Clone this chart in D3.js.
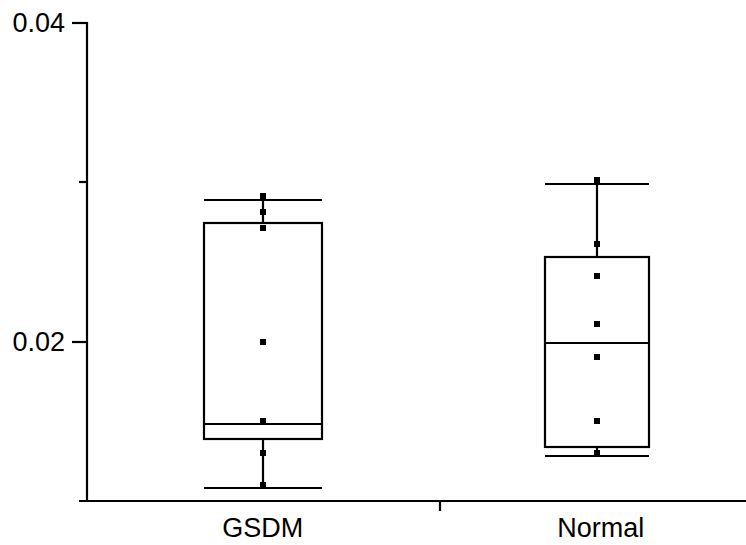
<!DOCTYPE html>
<html>
<head>
<meta charset="utf-8">
<script src="https://cdn.jsdelivr.net/npm/d3@7"></script>
<style>
  body { margin: 0; background: #fff; }
  text { font-family: "Liberation Sans", Arial, sans-serif; fill: #000; }
</style>
</head>
<body>
<div id="chart"></div>
<script>
// data
var groups = ["GSDM", "Normal"];
var whiskerHigh = [0.0289, 0.0299];
var q3 = [0.0274, 0.0253];
var median = [0.0148, 0.0199];
var q1 = [0.0139, 0.0134];
var whiskerLow = [0.0108, 0.0128];
var pointsGSDM = [0.0291, 0.0281, 0.0271, 0.0200, 0.0150, 0.0130, 0.0110];
var pointsNormal = [0.0301, 0.0261, 0.0241, 0.0211, 0.0190, 0.0150, 0.0130];
var yTicks = [0.02, 0.04];
var yMinorTicks = [0.03];
var xTicks = [1.53];

var allPoints = [pointsGSDM, pointsNormal];

var width = 746, height = 545;
var boxW = [118, 104]; // box widths in px
var sw = 2.2;

var svg = d3.select("#chart").append("svg")
    .attr("width", width)
    .attr("height", height);

var yscale = d3.scaleLinear()
    .domain([0.01, 0.04])
    .range([501, 22.5]);

var xscale = d3.scaleLinear()
    .domain([0.45, 2.45])
    .range([79, 747]);

function Y(v) { return Math.round(yscale(v)); }
function X(v) { return Math.round(xscale(v)); }

var axisX0 = 87; // where the y axis sits

// y axis
var yAxis = d3.axisLeft(yscale)
    .tickValues(yTicks)
    .tickSize(15)
    .tickPadding(7)
    .tickFormat(d3.format(".2f"));
var gy = svg.append("g")
    .attr("transform", "translate(" + axisX0 + ",0)")
    .call(yAxis);
gy.select(".domain").remove();
gy.selectAll(".tick").attr("transform", function (d) { return "translate(0," + Y(d) + ")"; });
gy.append("line")
    .attr("x1", 0).attr("x2", 0)
    .attr("y1", Y(0.04) - 1).attr("y2", Y(0.01) + 1)
    .attr("stroke", "#000").attr("stroke-width", sw);
gy.selectAll(".tick line").attr("stroke", "#000").attr("stroke-width", sw);
gy.selectAll(".tick text")
    .style("font-size", "27px")
    .attr("font-family", null)
    .attr("dy", "0.34em");
gy.selectAll(".minor")
    .data(yMinorTicks)
    .enter().append("line")
    .attr("x1", -8).attr("x2", 0)
    .attr("y1", function (d) { return Y(d); })
    .attr("y2", function (d) { return Y(d); })
    .attr("stroke", "#000").attr("stroke-width", sw);

// x axis
var xAxis = d3.axisBottom(xscale)
    .tickValues(xTicks)
    .tickSize(10)
    .tickFormat("");
var gx = svg.append("g")
    .attr("transform", "translate(0," + Y(0.01) + ")")
    .call(xAxis);
gx.select(".domain").remove();
gx.selectAll(".tick").attr("transform", function (d) { return "translate(" + X(d) + ",0)"; });
gx.append("line")
    .attr("x1", xscale.range()[0]).attr("x2", width)
    .attr("y1", 0).attr("y2", 0)
    .attr("stroke", "#000").attr("stroke-width", sw);
gx.selectAll(".tick line").attr("stroke", "#000").attr("stroke-width", sw);

gx.selectAll(".cat")
    .data(groups)
    .enter().append("text")
    .attr("class", "cat")
    .attr("x", function (d, i) { return xscale(i + 1) + (i === 1 ? 4 : 0); })
    .attr("y", 36)
    .attr("text-anchor", "middle")
    .style("font-size", "27px")
    .text(function (d) { return d; });

// boxes
var boxes = svg.append("g")
    .selectAll("g")
    .data(groups)
    .enter().append("g");

boxes.append("line") // whisker stem
    .attr("x1", function (d, i) { return X(i + 1); })
    .attr("x2", function (d, i) { return X(i + 1); })
    .attr("y1", function (d, i) { return Y(whiskerHigh[i]); })
    .attr("y2", function (d, i) { return Y(whiskerLow[i]); })
    .attr("stroke", "#000").attr("stroke-width", sw);

boxes.append("rect")
    .attr("x", function (d, i) { return X(i + 1) - boxW[i] / 2; })
    .attr("width", function (d, i) { return boxW[i]; })
    .attr("y", function (d, i) { return Y(q3[i]); })
    .attr("height", function (d, i) { return Y(q1[i]) - Y(q3[i]); })
    .attr("fill", "#fff")
    .attr("stroke", "#000").attr("stroke-width", sw);

[whiskerHigh, whiskerLow, median].forEach(function (arr) {
    boxes.append("line")
        .attr("x1", function (d, i) { return X(i + 1) - boxW[i] / 2; })
        .attr("x2", function (d, i) { return X(i + 1) + boxW[i] / 2; })
        .attr("y1", function (d, i) { return Y(arr[i]); })
        .attr("y2", function (d, i) { return Y(arr[i]); })
        .attr("stroke", "#000").attr("stroke-width", sw);
});

// data points
boxes.each(function (d, i) {
    d3.select(this).selectAll("rect.pt")
        .data(allPoints[i])
        .enter().append("rect")
        .attr("class", "pt")
        .attr("x", X(i + 1) - 3)
        .attr("y", function (v) { return Y(v) - 3; })
        .attr("width", 6)
        .attr("height", 6)
        .attr("fill", "#000");
});
</script>
</body>
</html>
